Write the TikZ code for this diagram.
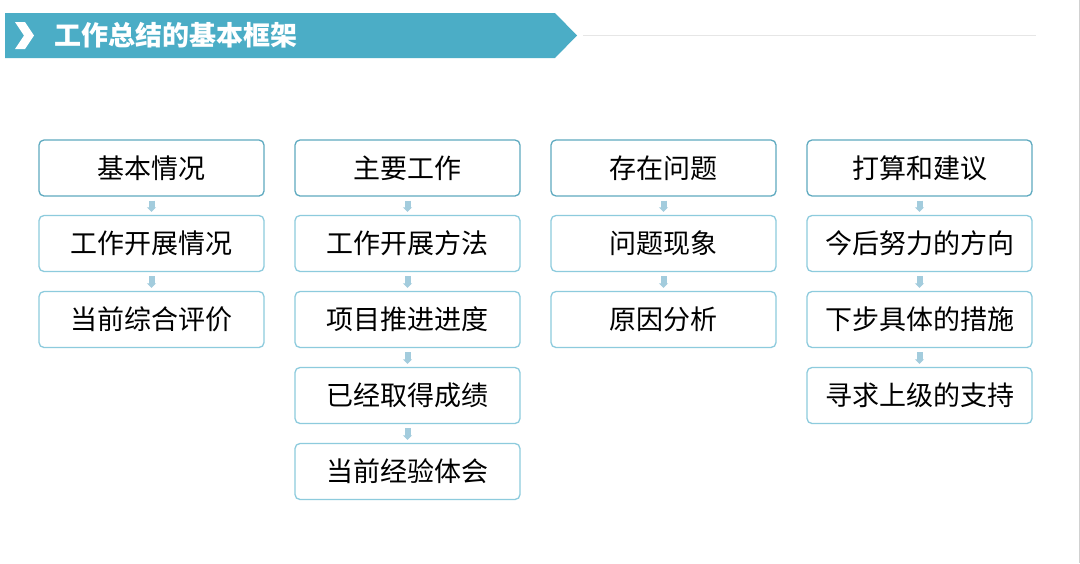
\documentclass[tikz,border=0pt]{standalone}
\usepackage{fontspec}
\setmainfont{Noto Sans CJK SC}
\usetikzlibrary{arrows.meta}
\definecolor{banner}{HTML}{4BADC6}
\definecolor{topline}{HTML}{5FAAC0}
\definecolor{subline}{HTML}{8DCBDD}
\definecolor{arrowc}{HTML}{A3CCDD}
\definecolor{rule}{HTML}{E6E6E6}
\tikzset{
  basebox/.style={draw, line width=1.3pt, rounded corners=5pt, fill=white,
    minimum width=225pt, minimum height=56pt, inner sep=0pt,
    font=\fontsize{27pt}{29pt}\selectfont, text=black},
  topbox/.style={basebox, draw=topline},
  subbox/.style={basebox, draw=subline},
  flowarrow/.style={draw=arrowc, line width=6pt, shorten <=4pt, shorten >=3pt,
    -{Triangle[width=9pt,length=4.5pt,fill=arrowc]}},
}
\begin{document}
\begin{tikzpicture}[x=1pt,y=-1pt]
\useasboundingbox (0,0) rectangle (1080,563);
\fill[white] (0,0) rectangle (1080,563);
% right edge
\draw[draw=rule!80!gray, line width=1pt] (1079,0) -- (1079,563);
% banner
\fill[banner] (5,13) -- (555,13) -- (577,35.5) -- (555,58) -- (5,58) -- cycle;
\fill[white] (15,22) -- (25,22) -- (34,35.5) -- (25,49) -- (15,49) -- (24,35.5) -- cycle;
\node[anchor=west, text=white, font=\fontsize{27pt}{29pt}\selectfont\bfseries, inner sep=0pt] (title) at (54,35.5) {工作总结的基本框架};
\coordinate (ruleA) at (583,35.5);
\coordinate (ruleB) at (1036,35.5);
\draw[rule, line width=1.5pt] (ruleA) -- (ruleB);
% column 1
\node[topbox] (a1) at (151.5,168) {基本情况};
\node[subbox] (a2) at (151.5,243.5) {工作开展情况};
\node[subbox] (a3) at (151.5,319.5) {当前综合评价};
% column 2
\node[topbox] (b1) at (407.5,168) {主要工作};
\node[subbox] (b2) at (407.5,243.5) {工作开展方法};
\node[subbox] (b3) at (407.5,319.5) {项目推进进度};
\node[subbox] (b4) at (407.5,395.5) {已经取得成绩};
\node[subbox] (b5) at (407.5,471.5) {当前经验体会};
% column 3
\node[topbox] (c1) at (663.5,168) {存在问题};
\node[subbox] (c2) at (663.5,243.5) {问题现象};
\node[subbox] (c3) at (663.5,319.5) {原因分析};
% column 4
\node[topbox] (d1) at (919.5,168) {打算和建议};
\node[subbox] (d2) at (919.5,243.5) {今后努力的方向};
\node[subbox] (d3) at (919.5,319.5) {下步具体的措施};
\node[subbox] (d4) at (919.5,395.5) {寻求上级的支持};
% arrows
\draw[flowarrow] (a1.south) -- (a2.north);
\draw[flowarrow] (a2.south) -- (a3.north);
\draw[flowarrow] (b1.south) -- (b2.north);
\draw[flowarrow] (b2.south) -- (b3.north);
\draw[flowarrow] (b3.south) -- (b4.north);
\draw[flowarrow] (b4.south) -- (b5.north);
\draw[flowarrow] (c1.south) -- (c2.north);
\draw[flowarrow] (c2.south) -- (c3.north);
\draw[flowarrow] (d1.south) -- (d2.north);
\draw[flowarrow] (d2.south) -- (d3.north);
\draw[flowarrow] (d3.south) -- (d4.north);
\end{tikzpicture}
\end{document}
